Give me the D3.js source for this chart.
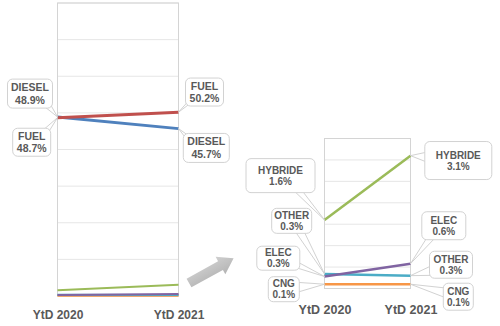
<!DOCTYPE html>
<html>
<head>
<meta charset="utf-8">
<script src="https://cdn.jsdelivr.net/npm/d3@7"></script>
<style>
  html, body { margin: 0; padding: 0; background: #fff; }
  svg { display: block; }
  text { font-family: "Liberation Sans", Arial, sans-serif; font-weight: bold; fill: #595959; }
</style>
</head>
<body>
<svg id="chart" width="500" height="326"></svg>
<script>
// Market share by fuel type, YtD 2020 vs YtD 2021 (percent)
const categories = ["YtD 2020", "YtD 2021"];
const fuel    = [48.7, 50.2];
const diesel  = [48.9, 45.7];
const hybride = [1.6, 3.1];
const elec    = [0.28, 0.58];
const other   = [0.34, 0.30];
const cng     = [0.1, 0.1];

const mainTicks = [0, 10, 20, 30, 40, 50, 60, 70, 80];
const zoomTicks = [0, 0.5, 1, 1.5, 2, 2.5, 3, 3.5];

const series = [
  { name: "CNG",     values: cng,     color: "#F79646" },
  { name: "OTHER",   values: other,   color: "#4BACC6" },
  { name: "ELEC",    values: elec,    color: "#8064A2" },
  { name: "HYBRIDE", values: hybride, color: "#9BBB59" },
  { name: "DIESEL",  values: diesel,  color: "#4F81BD" },
  { name: "FUEL",    values: fuel,    color: "#C0504D" }
];

const svg = d3.select("#chart");
const fmt = v => d3.format(".1f")(v) + "%";

function panel(opts) {
  const x = d3.scalePoint().domain(categories).range(opts.xRange);
  const y = d3.scaleLinear().domain(opts.yDomain).range(opts.yRange);
  const g = svg.append("g");

  // horizontal gridlines
  g.selectAll("line.grid").data(opts.ticks).join("line")
    .attr("x1", opts.xRange[0]).attr("x2", opts.xRange[1])
    .attr("y1", d => y(d)).attr("y2", d => y(d))
    .attr("stroke", "#e6e6e6").attr("stroke-width", 1);

  // plot frame
  g.append("rect")
    .attr("x", opts.xRange[0]).attr("y", opts.yRange[1])
    .attr("width", opts.xRange[1] - opts.xRange[0])
    .attr("height", opts.yRange[0] - opts.yRange[1])
    .attr("fill", "none").attr("stroke", "#d4d4d4").attr("stroke-width", 1);

  // category labels
  const axis = d3.axisBottom(x).tickSize(0).tickPadding(0);
  const ax = g.append("g").attr("transform", `translate(0,${opts.axisY})`).call(axis);
  ax.select(".domain").remove();
  ax.selectAll("text").attr("font-size", opts.axisFont).attr("dy", 0)
    .style("font-family", '"Liberation Sans", Arial, sans-serif')
    .style("font-weight", "bold").style("fill", "#595959");

  // series lines
  const line = d3.line().x((d, i) => x(categories[i])).y(d => y(d));
  const shown = series.filter(s => opts.series.includes(s.name));
  g.selectAll("path.series").data(shown).join("path")
    .attr("d", s => line(s.values))
    .attr("fill", "none")
    .attr("stroke", s => s.color)
    .attr("stroke-width", s => (opts.width[s.name] || 2));

  // callout labels
  opts.labels.forEach(lb => {
    const s = series.find(d => d.name === lb.name);
    const v = s.values[lb.i];
    const px = x(categories[lb.i]), py = y(v);
    const cx = px + lb.dx, cy = py + lb.dy;
    const w = lb.w, h = lb.h;
    const x0 = cx - w / 2, y0 = cy - h / 2, x1 = cx + w / 2, y1 = cy + h / 2;

    // where the center-to-point ray leaves the box
    const vx = px - cx, vy = py - cy;
    const t = Math.min(Math.abs((w / 2) / (vx || 1e-9)), Math.abs((h / 2) / (vy || 1e-9)));
    const bx = cx + vx * t, by = cy + vy * t;
    const len = Math.hypot(vx, vy);
    const nx = -vy / len * 5, ny = vx / len * 5;
    const clampX = a => Math.max(x0 + 2, Math.min(x1 - 2, a));
    const clampY = a => Math.max(y0 + 2, Math.min(y1 - 2, a));
    const b1 = [clampX(bx + nx), clampY(by + ny)];
    const b2 = [clampX(bx - nx), clampY(by - ny)];
    const tail = `M${b1[0]},${b1[1]}L${px},${py}L${b2[0]},${b2[1]}Z`;

    const lg = g.append("g");
    lg.append("path").attr("d", tail)
      .attr("fill", "#fff").attr("stroke", "#d2d2d2").attr("stroke-width", 1);
    lg.append("rect")
      .attr("x", x0).attr("y", y0).attr("width", w).attr("height", h)
      .attr("rx", 5).attr("ry", 5)
      .attr("fill", "#fff").attr("stroke", "#d2d2d2").attr("stroke-width", 1);
    const fs = opts.fontSize, gap = opts.lineGap;
    lg.append("text").attr("x", cx).attr("y", cy - gap / 2 + fs * 0.36)
      .attr("text-anchor", "middle").attr("font-size", fs).text(s.name);
    lg.append("text").attr("x", cx).attr("y", cy + gap / 2 + fs * 0.36)
      .attr("text-anchor", "middle").attr("font-size", fs).text(fmt(v));
  });
}

// full-scale view
panel({
  xRange: [57.5, 178.5], yRange: [296, 3], yDomain: [0, 80], ticks: mainTicks,
  axisY: 319, axisFont: 12,
  series: ["CNG", "OTHER", "ELEC", "HYBRIDE", "DIESEL", "FUEL"],
  width: { FUEL: 3, DIESEL: 3, HYBRIDE: 2, ELEC: 2, OTHER: 2, CNG: 2 },
  fontSize: 10.5, lineGap: 12.5,
  labels: [
    { name: "DIESEL", i: 0, dx: -27.5, dy: -23.3, w: 45, h: 29 },
    { name: "FUEL",   i: 0, dx: -25.8, dy: 24.6,  w: 38, h: 28 },
    { name: "FUEL",   i: 1, dx: 26,    dy: -20.1, w: 38, h: 28 },
    { name: "DIESEL", i: 1, dx: 27.8,  dy: 19.3,  w: 46, h: 29 }
  ]
});

// zoom on the small segments
panel({
  xRange: [324.5, 410.5], yRange: [288.5, 138.5], yDomain: [0, 3.5], ticks: zoomTicks,
  axisY: 314, axisFont: 12.5,
  series: ["CNG", "OTHER", "ELEC", "HYBRIDE"],
  width: { HYBRIDE: 2.5, ELEC: 2.5, OTHER: 2.5, CNG: 2.5 },
  fontSize: 10, lineGap: 11,
  labels: [
    { name: "HYBRIDE", i: 0, dx: -44,   dy: -44.3, w: 69, h: 34 },
    { name: "OTHER",   i: 0, dx: -32.8, dy: -53.1, w: 40, h: 25 },
    { name: "ELEC",    i: 0, dx: -46.2, dy: -18.3, w: 43, h: 24 },
    { name: "CNG",     i: 0, dx: -40.7, dy: 5,     w: 31, h: 25 },
    { name: "HYBRIDE", i: 1, dx: 47.8,  dy: 4.9,   w: 67, h: 38 },
    { name: "ELEC",    i: 1, dx: 33.3,  dy: -37.9, w: 44, h: 28 },
    { name: "OTHER",   i: 1, dx: 40.5,  dy: -10.9, w: 43, h: 27 },
    { name: "CNG",     i: 1, dx: 47.8,  dy: 12.5,  w: 30, h: 27 }
  ]
});

// grey block arrow pointing from the main view to the zoomed view
const arrowLen = 51, shaftHalf = 5, headHalf = 10, headLen = 15;
const arrowShape = [
  [0, -shaftHalf], [arrowLen - headLen, -shaftHalf], [arrowLen - headLen, -headHalf],
  [arrowLen, 0], [arrowLen - headLen, headHalf], [arrowLen - headLen, shaftHalf], [0, shaftHalf]
];
const defs = svg.append("defs");
const grad = defs.append("linearGradient").attr("id", "arrowFill")
  .attr("x1", 0).attr("y1", 0).attr("x2", 0).attr("y2", 1);
grad.append("stop").attr("offset", "0%").attr("stop-color", "#cfcfcf");
grad.append("stop").attr("offset", "100%").attr("stop-color", "#b4b4b4");
svg.append("path")
  .attr("d", d3.line()(arrowShape) + "Z")
  .attr("fill", "url(#arrowFill)")
  .attr("transform", "translate(189,283) rotate(-29)");
</script>
</body>
</html>
